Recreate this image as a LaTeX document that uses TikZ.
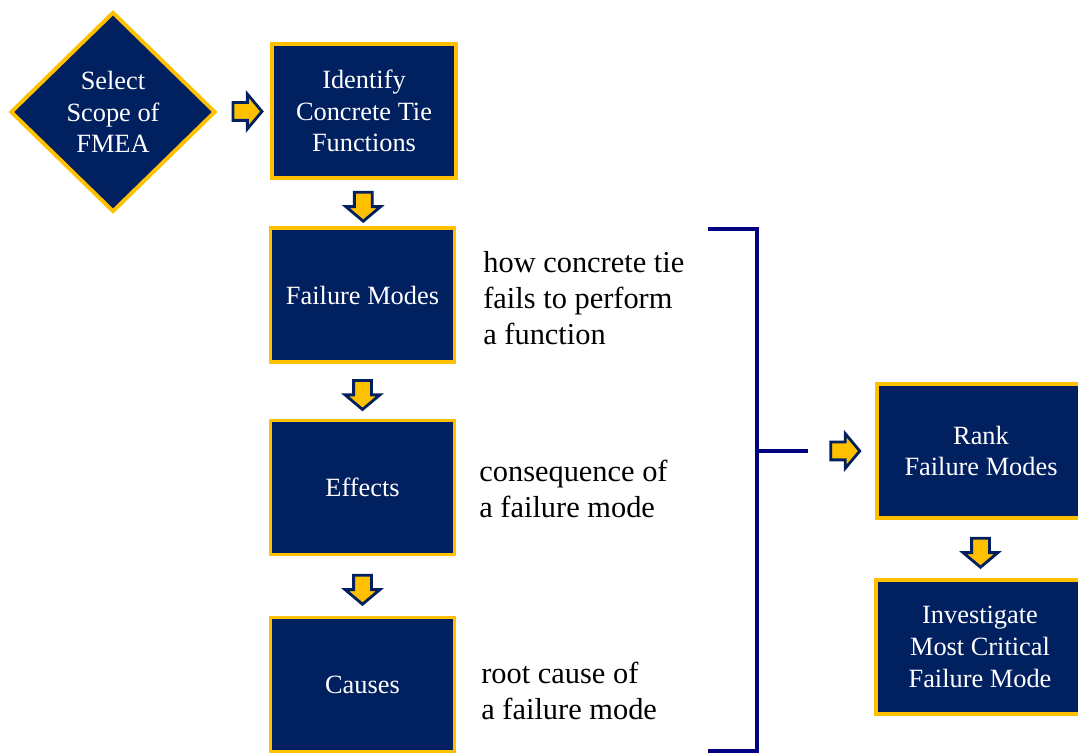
\documentclass[tikz,border=0pt]{standalone}
\usepackage{fontspec}
\setmainfont{Liberation Serif}
\usetikzlibrary{shapes.geometric}
\usetikzlibrary{shapes.arrows}
\usetikzlibrary{calc}
\definecolor{navy}{HTML}{002060}
\definecolor{gold}{HTML}{FFC000}
\definecolor{bracketblue}{HTML}{000080}

\begin{document}
\begin{tikzpicture}[
	box/.style={draw=gold,fill=navy,line width=2.2pt,text=white,align=center,minimum width=3.68cm,minimum height=2.68cm,inner sep=0pt,font=\rmfamily\fontsize{15}{18.1}\selectfont},
	dia/.style={box,diamond,minimum width=4.1cm,minimum height=4cm},
	blockarrow/.style={single arrow,draw=navy,fill=gold,line width=1.6pt,minimum height=0.58cm,inner xsep=0pt,inner ysep=0.15cm,single arrow head extend=0.17cm,single arrow tip angle=100},
	note/.style={align=left,anchor=west,inner sep=0pt,font=\rmfamily\fontsize{17.3}{20.4}\selectfont},
	brk/.style={draw=bracketblue,line width=2.2pt}
]
	\useasboundingbox (0,0) rectangle (21.56,15.08);
	\node[dia] (scope) at (2.26,12.84) {Select\\Scope of\\FMEA};
	\node[box] (ident) at (7.28,12.86) {Identify\\Concrete Tie\\Functions};
	\node[box] (fail) at (7.25,9.18) {Failure Modes};
	\node[box] (effect) at (7.25,5.33) {Effects};
	\node[box] (cause) at (7.25,1.39) {Causes};
	\node[box,minimum width=4.16cm] (rank) at (19.62,6.06) {Rank\\Failure Modes};
	\node[box,minimum width=4.16cm] (invest) at (19.6,2.14) {Investigate\\Most Critical\\Failure Mode};
	\node[note] (failnote) at (9.66,9.12) {how concrete tie\\fails to perform\\a function};
	\node[note] (effectnote) at (9.58,5.3) {consequence of\\a failure mode};
	\node[note] (causenote) at (9.62,1.26) {root cause of\\a failure mode};
	\node[blockarrow] (a1) at ($(scope.east)!0.5!(ident.west)$) {};
	\node[blockarrow,rotate=-90] (a2) at ($(ident.south)!0.5!(fail.north)$) {};
	\node[blockarrow,rotate=-90] (a3) at ($(fail.south)!0.5!(effect.north)$) {};
	\node[blockarrow,rotate=-90] (a4) at ($(effect.south)!0.5!(cause.north)$) {};
	\node[blockarrow,rotate=-90] (a5) at ($(rank.south)!0.5!(invest.north)$) {};
	% bracket
	\coordinate (btop) at (14.16,10.5);
	\coordinate (bbot) at (14.16,0.06);
	\coordinate (bjoin) at (15.14,6.06);
	\coordinate (btick) at (16.16,6.06);
	\draw[brk] (btop) -- (btop -| bjoin) -- (bbot -| bjoin) -- (bbot);
	\draw[brk] (bjoin) -- (btick);
	\node[blockarrow] (a6) at ($(btick)!0.5!(rank.west)$) {};
\end{tikzpicture}
\end{document}
